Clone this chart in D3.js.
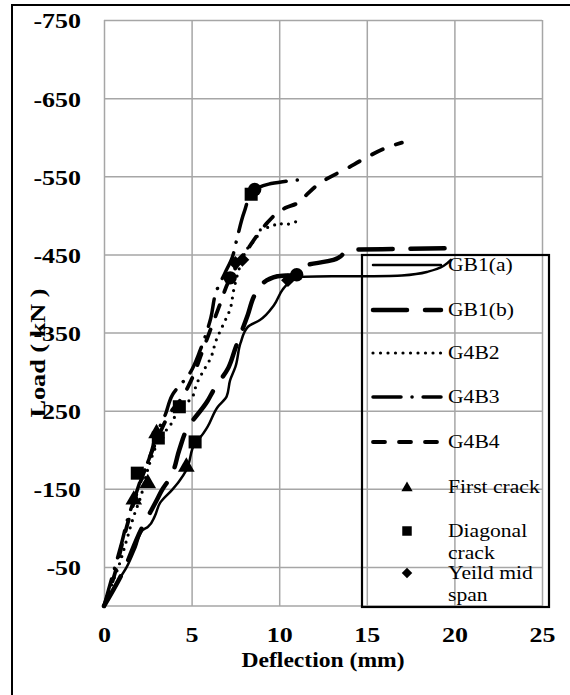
<!DOCTYPE html>
<meta charset="utf-8">
<head>
  <title>Load - deflection</title>
</head>
<style>
body { margin: 0; background: #fff; }
svg text { font-family: "Liberation Serif", "Times New Roman", serif; fill: #000; }
.grid line { stroke: #a6a6a6; stroke-width: 1.5; }
.grid .domain { display: none; }
.grid .tick text { font-family: "Liberation Serif", "Times New Roman", serif; font-size: 22px; font-weight: bold; }
.curve { fill: none; stroke: #000; stroke-linecap: round; stroke-linejoin: round; }
</style>
<body>
<svg width="570" height="695"></svg>

<script src="https://cdnjs.cloudflare.com/ajax/libs/d3/7.8.5/d3.min.js"></script>
<script>
// deflection (mm) / load (kN)
var gb1aDefl = [0, 0.6, 1.3, 1.8, 2.2, 2.5, 2.9, 3.2, 3.9, 4.3, 4.7, 5.2, 5.5, 5.9, 6.5, 7.0, 7.2, 7.5, 7.8, 8.2, 8.9, 9.7, 10.2, 10.6, 11.0, 13.0, 15.0, 17.0, 18.5, 19.8]
var gb1aLoad = [0, -25, -50, -75, -97, -101, -115, -132, -149, -160, -174, -209, -216, -229, -255, -268, -289, -306, -337, -357, -366, -385, -405, -415, -421, -422, -422, -423, -428, -443]

var gb1bDefl = [0, 1.0, 2.1, 3.0, 3.3, 3.8, 4.3, 4.7, 5.9, 6.3, 7.1, 7.5, 8.2, 8.6, 9.0, 9.9, 10.9, 11.2, 13.1, 14.1, 17.0, 20.2]
var gb1bLoad = [0, -40, -97, -135, -148, -165, -200, -225, -262, -278, -305, -330, -372, -398, -412, -422, -424, -434, -443, -456, -457, -458]

var g4b2Defl = [0, 0.4, 0.9, 1.3, 1.7, 2.1, 2.5, 2.8, 3.2, 3.8, 4.4, 5.0, 5.3, 5.6, 6.1, 6.4, 6.8, 7.2, 7.4, 7.8, 8.2, 8.7, 8.9, 9.4, 9.9, 10.5, 11.0]
var g4b2Load = [0, -25, -55, -85, -115, -140, -175, -195, -215, -232, -255, -266, -285, -298, -318, -340, -360, -380, -404, -437, -458, -471, -481, -485, -490, -488, -492]

var g4b3Defl = [0, 0.5, 1.0, 1.4, 1.7, 2.2, 2.6, 3.0, 3.5, 3.9, 4.9, 5.5, 6.1, 6.4, 6.9, 7.3, 7.6, 8.0, 8.5, 9.4, 10.2, 11.4]
var g4b3Load = [0, -40, -80, -115, -135, -168, -190, -220, -245, -270, -298, -328, -369, -402, -426, -445, -471, -504, -530, -540, -543, -546]

var g4b4Defl = [0, 0.6, 1.1, 1.6, 2.1, 2.6, 3.2, 3.8, 4.4, 5.0, 5.6, 6.1, 6.6, 7.1, 7.7, 8.3, 8.8, 9.3, 9.9, 10.4, 11.0, 11.5, 12.2, 12.9, 13.7, 14.9, 16.3, 17.0]
var g4b4Load = [0, -40, -85, -125, -160, -190, -222, -248, -265, -290, -325, -355, -385, -415, -440, -460, -476, -490, -503, -510, -515, -525, -539, -549, -558, -573, -588, -593]

var firstCrackDefl = [4.7, 2.5, 1.7, 3.0]
var firstCrackLoad = [-178, -157, -136, -221]
var diagCrackDefl = [5.2, 4.3, 3.1, 1.9, 8.4]
var diagCrackLoad = [-210, -255, -215, -170, -527]
var yieldDefl = [7.5, 7.9, 10.5]
var yieldLoad = [-439, -443, -417]
var peakDefl = [11.0, 7.2, 8.6]
var peakLoad = [-424, -420, -533]

var xTicks = [0, 5, 10, 15, 20, 25]
var yTicks = [-50, -150, -250, -350, -450, -550, -650, -750]

var svg = d3.select('svg')

var x = d3.scaleLinear().domain([0, 25]).range([104, 542])
var y = d3.scaleLinear().domain([0, -750]).range([606, 20])

// the original font runs wider than Liberation Serif, so text is stretched a bit
function label(parent, tx, ty, str, size, bold, anchor, sx, rot) {
  return parent.append('text')
    .attr('transform', 'translate(' + tx + ',' + ty + ') rotate(' + (rot || 0) + ') scale(' + sx + ',1)')
    .attr('text-anchor', anchor)
    .style('font-size', size + 'px')
    .style('font-weight', bold ? 'bold' : 'normal')
    .text(str)
}

// outer frame (cut off on the right and bottom)
svg.append('rect')
  .attr('x', 12).attr('y', 5)
  .attr('width', 600).attr('height', 720)
  .attr('fill', 'none').attr('stroke', '#000').attr('stroke-width', 2)

// gridlines + tick labels
var tickStretch = 1.18
var yAxis = svg.append('g')
  .attr('class', 'grid')
  .attr('transform', 'translate(104,0)')
  .call(d3.axisLeft(y).tickValues(yTicks).tickSize(-438).tickPadding(23).tickFormat(function(d) { return String(d) }))
yAxis.selectAll('text')
  .attr('x', -23 / tickStretch)
  .attr('dy', '0.36em')
  .attr('transform', 'scale(' + tickStretch + ',1)')

var xAxis = svg.append('g')
  .attr('class', 'grid')
  .attr('transform', 'translate(0,606)')
  .call(d3.axisBottom(x).tickValues(xTicks).tickSize(-586).tickPadding(20).tickFormat(function(d) { return String(d) }))
xAxis.selectAll('text')
  .attr('dy', '0.71em')
  .attr('transform', 'scale(' + tickStretch + ',1)')

// bottom edge of plot area
svg.append('line')
  .attr('x1', x(0)).attr('x2', x(25))
  .attr('y1', y(0)).attr('y2', y(0))
  .attr('stroke', '#a6a6a6').attr('stroke-width', 1.5)

label(svg, 323, 667, 'Deflection (mm)', 20, true, 'middle', 1.18)
label(svg, 45, 353, 'Load ( kN )', 21, true, 'middle', 1.25, -90)

var series = [
  {name: 'GB1(a)', defl: gb1aDefl, load: gb1aLoad, width: 2.5, dash: null},
  {name: 'GB1(b)', defl: gb1bDefl, load: gb1bLoad, width: 4.5, dash: '34,18'},
  {name: 'G4B2', defl: g4b2Defl, load: g4b2Load, width: 3.2, dash: '0,7.5'},
  {name: 'G4B3', defl: g4b3Defl, load: g4b3Load, width: 3.5, dash: '28,11,0.1,11'},
  {name: 'G4B4', defl: g4b4Defl, load: g4b4Load, width: 3.8, dash: '12,14'}
]

var line = d3.line()
  .x(function(d) { return x(d[0]) })
  .y(function(d) { return y(d[1]) })
  .curve(d3.curveMonotoneY)

svg.append('g').selectAll('path')
  .data(series)
  .enter().append('path')
  .attr('class', 'curve')
  .attr('d', function(s) { return line(d3.zip(s.defl, s.load)) })
  .attr('stroke-width', function(s) { return s.width })
  .attr('stroke-dasharray', function(s) { return s.dash })

var markers = [
  {name: 'First crack', defl: firstCrackDefl, load: firstCrackLoad, type: d3.symbolTriangle, size: 120, legendSize: 55, rot: 0},
  {name: 'Diagonal crack', defl: diagCrackDefl, load: diagCrackLoad, type: d3.symbolSquare, size: 170, legendSize: 90, rot: 0},
  {name: 'Yeild mid span', defl: yieldDefl, load: yieldLoad, type: d3.symbolSquare, size: 95, legendSize: 55, rot: 45},
  {name: 'peak', defl: peakDefl, load: peakLoad, type: d3.symbolCircle, size: 140, rot: 0}
]

markers.forEach(function(m) {
  svg.append('g').selectAll('path')
    .data(d3.zip(m.defl, m.load))
    .enter().append('path')
    .attr('transform', function(d) { return 'translate(' + x(d[0]) + ',' + y(d[1]) + ') rotate(' + m.rot + ')' })
    .attr('d', d3.symbol().type(m.type).size(m.size))
    .attr('fill', '#000')
})

// legend
var lg = svg.append('g')
lg.append('rect')
  .attr('x', 362).attr('y', 255).attr('width', 187).attr('height', 352)
  .attr('fill', 'none').attr('stroke', '#000').attr('stroke-width', 2.2)

var rowY = [265, 310, 353, 397, 442]
series.forEach(function(s, i) {
  lg.append('line')
    .attr('class', 'curve')
    .attr('x1', 373).attr('x2', 441)
    .attr('y1', rowY[i]).attr('y2', rowY[i])
    .attr('stroke-width', s.width)
    .attr('stroke-dasharray', s.dash)
  label(lg, 448, rowY[i] + 6, s.name, 18, false, 'start', 1.2)
})

var markY = [488, 531, 573]
var markLabels = [['First crack'], ['Diagonal', 'crack'], ['Yeild mid', 'span']]
markers.slice(0, 3).forEach(function(m, i) {
  lg.append('path')
    .attr('transform', 'translate(407,' + markY[i] + ') rotate(' + m.rot + ')')
    .attr('d', d3.symbol().type(m.type).size(m.legendSize))
    .attr('fill', '#000')
  var t = label(lg, 448, markY[i] + (markLabels[i].length > 1 ? 6 : 5), '', 18, false, 'start', 1.2)
  markLabels[i].forEach(function(w, j) {
    t.append('tspan').attr('x', 0).attr('dy', j ? 22 : 0).text(w)
  })
})
</script>
</body>
